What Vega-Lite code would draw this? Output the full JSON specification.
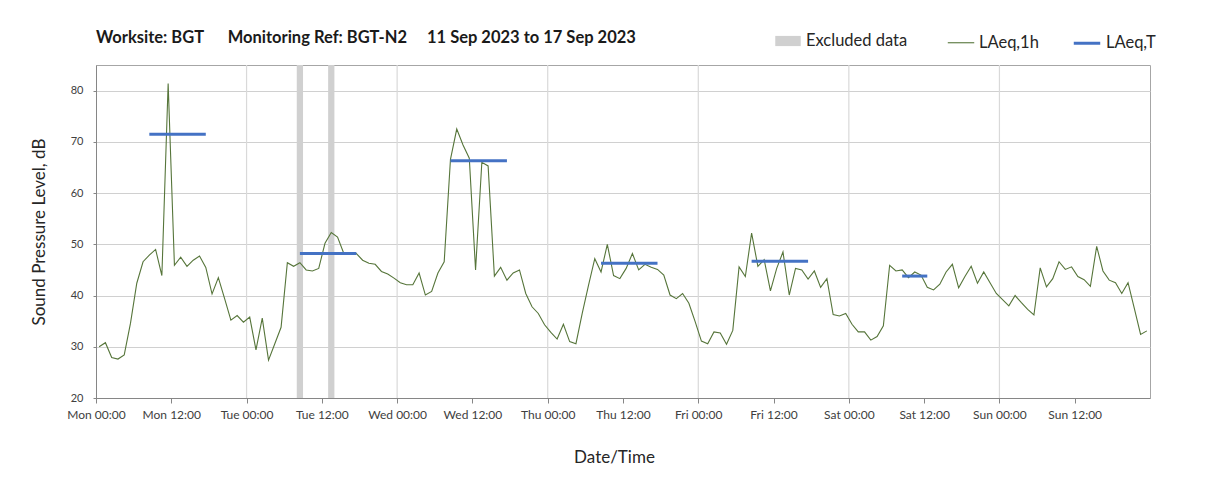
{
  "$schema": "https://vega.github.io/schema/vega-lite/v6.json",
  "autosize": {"type": "none"},
  "width": 1054,
  "height": 333,
  "padding": {"left": 96, "top": 65, "right": 58, "bottom": 94},
  "background": "white",
  "config": {"font": "Lato", "view": {"stroke": "#a6a6a6", "strokeWidth": 1}, "axisY": {"tickCount": 13}},
  "title": {"text": "Worksite: BGT\u00a0\u00a0\u00a0\u00a0\u00a0\u00a0Monitoring Ref: BGT-N2\u00a0\u00a0\u00a0\u00a0 11 Sep 2023 to 17 Sep 2023", "anchor": "start", "frame": "group", "offset": -18, "fontSize": 16.5, "fontWeight": "bold", "color": "#1a1a1a"},
  "datasets": {
    "hourly": [
      {"t":"2023-09-11T00:30","v":30.0},{"t":"2023-09-11T01:30","v":30.8},{"t":"2023-09-11T02:30","v":27.9},{"t":"2023-09-11T03:30","v":27.6},
      {"t":"2023-09-11T04:30","v":28.4},{"t":"2023-09-11T05:30","v":34.6},{"t":"2023-09-11T06:30","v":42.4},{"t":"2023-09-11T07:30","v":46.6},
      {"t":"2023-09-11T08:30","v":47.9},{"t":"2023-09-11T09:30","v":49.0},{"t":"2023-09-11T10:30","v":43.9},{"t":"2023-09-11T11:30","v":81.4},
      {"t":"2023-09-11T12:30","v":45.9},{"t":"2023-09-11T13:30","v":47.5},{"t":"2023-09-11T14:30","v":45.7},{"t":"2023-09-11T15:30","v":46.9},
      {"t":"2023-09-11T16:30","v":47.7},{"t":"2023-09-11T17:30","v":45.5},{"t":"2023-09-11T18:30","v":40.3},{"t":"2023-09-11T19:30","v":43.5},
      {"t":"2023-09-11T20:30","v":39.4},{"t":"2023-09-11T21:30","v":35.2},{"t":"2023-09-11T22:30","v":36.1},{"t":"2023-09-11T23:30","v":34.8},
      {"t":"2023-09-12T00:30","v":35.8},{"t":"2023-09-12T01:30","v":29.4},{"t":"2023-09-12T02:30","v":35.6},{"t":"2023-09-12T03:30","v":27.4},
      {"t":"2023-09-12T04:30","v":30.6},{"t":"2023-09-12T05:30","v":33.8},{"t":"2023-09-12T06:30","v":46.4},{"t":"2023-09-12T07:30","v":45.7},
      {"t":"2023-09-12T08:30","v":46.4},{"t":"2023-09-12T09:30","v":45.0},{"t":"2023-09-12T10:30","v":44.8},{"t":"2023-09-12T11:30","v":45.3},
      {"t":"2023-09-12T12:30","v":50.2},{"t":"2023-09-12T13:30","v":52.3},{"t":"2023-09-12T14:30","v":51.4},{"t":"2023-09-12T15:30","v":48.2},
      {"t":"2023-09-12T16:30","v":48.1},{"t":"2023-09-12T17:30","v":48.2},{"t":"2023-09-12T18:30","v":46.9},{"t":"2023-09-12T19:30","v":46.3},
      {"t":"2023-09-12T20:30","v":46.1},{"t":"2023-09-12T21:30","v":44.7},{"t":"2023-09-12T22:30","v":44.2},{"t":"2023-09-12T23:30","v":43.4},
      {"t":"2023-09-13T00:30","v":42.5},{"t":"2023-09-13T01:30","v":42.1},{"t":"2023-09-13T02:30","v":42.1},{"t":"2023-09-13T03:30","v":44.4},
      {"t":"2023-09-13T04:30","v":40.1},{"t":"2023-09-13T05:30","v":40.8},{"t":"2023-09-13T06:30","v":44.4},{"t":"2023-09-13T07:30","v":46.6},
      {"t":"2023-09-13T08:30","v":66.6},{"t":"2023-09-13T09:30","v":72.5},{"t":"2023-09-13T10:30","v":69.4},{"t":"2023-09-13T11:30","v":66.8},
      {"t":"2023-09-13T12:30","v":45.0},{"t":"2023-09-13T13:30","v":66.0},{"t":"2023-09-13T14:30","v":65.3},{"t":"2023-09-13T15:30","v":43.8},
      {"t":"2023-09-13T16:30","v":45.5},{"t":"2023-09-13T17:30","v":43.0},{"t":"2023-09-13T18:30","v":44.4},{"t":"2023-09-13T19:30","v":45.0},
      {"t":"2023-09-13T20:30","v":40.4},{"t":"2023-09-13T21:30","v":37.8},{"t":"2023-09-13T22:30","v":36.5},{"t":"2023-09-13T23:30","v":34.3},
      {"t":"2023-09-14T00:30","v":32.8},{"t":"2023-09-14T01:30","v":31.5},{"t":"2023-09-14T02:30","v":34.4},{"t":"2023-09-14T03:30","v":31.0},
      {"t":"2023-09-14T04:30","v":30.6},{"t":"2023-09-14T05:30","v":36.5},{"t":"2023-09-14T06:30","v":42.0},{"t":"2023-09-14T07:30","v":47.2},
      {"t":"2023-09-14T08:30","v":44.6},{"t":"2023-09-14T09:30","v":50.0},{"t":"2023-09-14T10:30","v":43.9},{"t":"2023-09-14T11:30","v":43.3},
      {"t":"2023-09-14T12:30","v":45.3},{"t":"2023-09-14T13:30","v":48.2},{"t":"2023-09-14T14:30","v":45.0},{"t":"2023-09-14T15:30","v":46.1},
      {"t":"2023-09-14T16:30","v":45.5},{"t":"2023-09-14T17:30","v":45.1},{"t":"2023-09-14T18:30","v":44.0},{"t":"2023-09-14T19:30","v":40.1},
      {"t":"2023-09-14T20:30","v":39.4},{"t":"2023-09-14T21:30","v":40.4},{"t":"2023-09-14T22:30","v":38.5},{"t":"2023-09-14T23:30","v":34.9},
      {"t":"2023-09-15T00:30","v":31.1},{"t":"2023-09-15T01:30","v":30.6},{"t":"2023-09-15T02:30","v":32.9},{"t":"2023-09-15T03:30","v":32.7},
      {"t":"2023-09-15T04:30","v":30.5},{"t":"2023-09-15T05:30","v":33.2},{"t":"2023-09-15T06:30","v":45.6},{"t":"2023-09-15T07:30","v":43.7},
      {"t":"2023-09-15T08:30","v":52.2},{"t":"2023-09-15T09:30","v":45.7},{"t":"2023-09-15T10:30","v":47.0},{"t":"2023-09-15T11:30","v":40.9},
      {"t":"2023-09-15T12:30","v":45.3},{"t":"2023-09-15T13:30","v":48.5},{"t":"2023-09-15T14:30","v":40.1},{"t":"2023-09-15T15:30","v":45.3},
      {"t":"2023-09-15T16:30","v":45.0},{"t":"2023-09-15T17:30","v":43.2},{"t":"2023-09-15T18:30","v":44.8},{"t":"2023-09-15T19:30","v":41.6},
      {"t":"2023-09-15T20:30","v":43.3},{"t":"2023-09-15T21:30","v":36.3},{"t":"2023-09-15T22:30","v":36.0},{"t":"2023-09-15T23:30","v":36.5},
      {"t":"2023-09-16T00:30","v":34.4},{"t":"2023-09-16T01:30","v":32.9},{"t":"2023-09-16T02:30","v":32.9},{"t":"2023-09-16T03:30","v":31.3},
      {"t":"2023-09-16T04:30","v":32.0},{"t":"2023-09-16T05:30","v":34.1},{"t":"2023-09-16T06:30","v":45.9},{"t":"2023-09-16T07:30","v":44.8},
      {"t":"2023-09-16T08:30","v":45.0},{"t":"2023-09-16T09:30","v":43.5},{"t":"2023-09-16T10:30","v":44.6},{"t":"2023-09-16T11:30","v":44.0},
      {"t":"2023-09-16T12:30","v":41.6},{"t":"2023-09-16T13:30","v":41.1},{"t":"2023-09-16T14:30","v":42.2},{"t":"2023-09-16T15:30","v":44.6},
      {"t":"2023-09-16T16:30","v":46.1},{"t":"2023-09-16T17:30","v":41.5},{"t":"2023-09-16T18:30","v":43.7},{"t":"2023-09-16T19:30","v":45.7},
      {"t":"2023-09-16T20:30","v":42.4},{"t":"2023-09-16T21:30","v":44.6},{"t":"2023-09-16T22:30","v":42.5},{"t":"2023-09-16T23:30","v":40.4},
      {"t":"2023-09-17T00:30","v":39.2},{"t":"2023-09-17T01:30","v":38.0},{"t":"2023-09-17T02:30","v":40.0},{"t":"2023-09-17T03:30","v":38.6},
      {"t":"2023-09-17T04:30","v":37.3},{"t":"2023-09-17T05:30","v":36.2},{"t":"2023-09-17T06:30","v":45.4},{"t":"2023-09-17T07:30","v":41.7},
      {"t":"2023-09-17T08:30","v":43.3},{"t":"2023-09-17T09:30","v":46.6},{"t":"2023-09-17T10:30","v":45.1},{"t":"2023-09-17T11:30","v":45.6},
      {"t":"2023-09-17T12:30","v":43.7},{"t":"2023-09-17T13:30","v":43.1},{"t":"2023-09-17T14:30","v":41.8},{"t":"2023-09-17T15:30","v":49.6},
      {"t":"2023-09-17T16:30","v":44.8},{"t":"2023-09-17T17:30","v":43.0},{"t":"2023-09-17T18:30","v":42.5},{"t":"2023-09-17T19:30","v":40.4},
      {"t":"2023-09-17T20:30","v":42.5},{"t":"2023-09-17T21:30","v":37.5},{"t":"2023-09-17T22:30","v":32.4},{"t":"2023-09-17T23:30","v":33.1}
    ],
    "periods": [
      {"start":"2023-09-11T08:30","end":"2023-09-11T17:30","v":71.5},
      {"start":"2023-09-12T08:30","end":"2023-09-12T17:30","v":48.2},
      {"start":"2023-09-13T08:30","end":"2023-09-13T17:30","v":66.3},
      {"start":"2023-09-14T08:30","end":"2023-09-14T17:30","v":46.3},
      {"start":"2023-09-15T08:30","end":"2023-09-15T17:30","v":46.7},
      {"start":"2023-09-16T08:30","end":"2023-09-16T12:30","v":43.8}
    ],
    "excluded": [
      {"start":"2023-09-12T08:00","end":"2023-09-12T09:00"},
      {"start":"2023-09-12T13:00","end":"2023-09-12T14:00"}
    ],
    "days": [
      {"d":"2023-09-12T00:00"},{"d":"2023-09-13T00:00"},{"d":"2023-09-14T00:00"},
      {"d":"2023-09-15T00:00"},{"d":"2023-09-16T00:00"},{"d":"2023-09-17T00:00"}
    ]
  },
  "layer": [
    {
      "data": {"name": "days"},
      "mark": {"type": "rule", "color": "#d9d9d9", "strokeWidth": 1.2},
      "encoding": {"x": {"field": "d", "type": "temporal"}}
    },
    {
      "data": {"name": "excluded"},
      "transform": [{"calculate": "'Excluded data'", "as": "series"}],
      "mark": {"type": "rect"},
      "encoding": {
        "x": {"field": "start", "type": "temporal"},
        "x2": {"field": "end"},
        "fill": {
          "field": "series", "type": "nominal",
          "scale": {"domain": ["Excluded data"], "range": ["#d0d0d0"]},
          "legend": {"title": null, "orient": "none", "direction": "horizontal", "legendX": 679, "legendY": -37, "labelFontSize": 16.5, "labelColor": "#262626", "labelOffset": 5, "symbolType": "M-1,-0.4H1V0.4H-1Z", "symbolSize": 650, "symbolStrokeWidth": 0}
        }
      }
    },
    {
      "data": {"name": "hourly"},
      "transform": [{"calculate": "'LAeq,1h'", "as": "series"}],
      "mark": {"type": "line"},
      "encoding": {
        "x": {
          "field": "t", "type": "temporal",
          "scale": {"domain": [{"year": 2023, "month": 9, "date": 11, "hours": 0}, {"year": 2023, "month": 9, "date": 18, "hours": 0}], "nice": false},
          "axis": {
            "title": "Date/Time",
            "values": [
              {"year": 2023, "month": 9, "date": 11, "hours": 0}, {"year": 2023, "month": 9, "date": 11, "hours": 12},
              {"year": 2023, "month": 9, "date": 12, "hours": 0}, {"year": 2023, "month": 9, "date": 12, "hours": 12},
              {"year": 2023, "month": 9, "date": 13, "hours": 0}, {"year": 2023, "month": 9, "date": 13, "hours": 12},
              {"year": 2023, "month": 9, "date": 14, "hours": 0}, {"year": 2023, "month": 9, "date": 14, "hours": 12},
              {"year": 2023, "month": 9, "date": 15, "hours": 0}, {"year": 2023, "month": 9, "date": 15, "hours": 12},
              {"year": 2023, "month": 9, "date": 16, "hours": 0}, {"year": 2023, "month": 9, "date": 16, "hours": 12},
              {"year": 2023, "month": 9, "date": 17, "hours": 0}, {"year": 2023, "month": 9, "date": 17, "hours": 12}
            ],
            "format": "%a %H:%M",
            "grid": false,
            "labelFlush": false,
            "labelOverlap": false,
            "labelFontSize": 12,
            "labelColor": "#404040",
            "labelPadding": 6,
            "tickSize": 5,
            "tickColor": "#868686",
            "domainColor": "#868686",
            "titleFontSize": 17,
            "titleFontWeight": "normal",
            "titleColor": "#262626",
            "titlePadding": 29,
            "titleX": 518,
            "titleAlign": "center"
          }
        },
        "y": {
          "field": "v", "type": "quantitative",
          "scale": {"domain": [20, 85], "nice": false, "zero": false},
          "axis": {
            "title": "Sound Pressure Level, dB",
            "values": [20,25,30,35,40,45,50,55,60,65,70,75,80,85],
            "tickCount": 13,
            "labelOverlap": false,
            "labelFlush": false,
            "labelBound": false,
            "labelFontSize": 11,
            "labelColor": "#404040",
            "labelPadding": 10,
            "tickSize": 3,
            "tickColor": "#868686",
            "domainColor": "#868686",
            "gridColor": "#d0d0d0",
            "gridWidth": 1.2,
            "titleFontSize": 17,
            "titleFontWeight": "normal",
            "titleColor": "#262626",
            "titlePadding": 22
          }
        },
        "stroke": {
          "field": "series", "type": "nominal",
          "scale": {"domain": ["LAeq,1h", "LAeq,T"], "range": ["#56753a", "#4472c4"]},
          "legend": {"title": null, "orient": "none", "direction": "horizontal", "legendX": 851, "legendY": -37, "labelFontSize": 16.5, "labelColor": "#262626", "labelOffset": 4, "columnPadding": 28, "symbolType": "stroke", "symbolSize": 700}
        },
        "strokeWidth": {
          "field": "series", "type": "nominal",
          "scale": {"domain": ["LAeq,1h", "LAeq,T"], "range": [1.1, 3]},
          "legend": {"title": null, "orient": "none", "direction": "horizontal", "legendX": 851, "legendY": -37, "labelFontSize": 16.5, "labelColor": "#262626", "labelOffset": 4, "columnPadding": 28, "symbolType": "stroke", "symbolSize": 700}
        }
      }
    },
    {
      "data": {"name": "periods"},
      "transform": [{"calculate": "'LAeq,T'", "as": "series"}],
      "mark": {"type": "rule"},
      "encoding": {
        "x": {"field": "start", "type": "temporal"},
        "x2": {"field": "end"},
        "y": {
          "field": "v", "type": "quantitative",
          "axis": {
            "title": "Sound Pressure Level, dB",
            "values": [20,25,30,35,40,45,50,55,60,65,70,75,80,85],
            "tickCount": 13,
            "labelOverlap": false,
            "labelFlush": false,
            "labelBound": false,
            "labelFontSize": 11,
            "labelColor": "#404040",
            "labelPadding": 10,
            "tickSize": 3,
            "tickColor": "#868686",
            "domainColor": "#868686",
            "gridColor": "#d0d0d0",
            "gridWidth": 1.2,
            "titleFontSize": 17,
            "titleFontWeight": "normal",
            "titleColor": "#262626",
            "titlePadding": 22
          }
        },
        "stroke": {"field": "series", "type": "nominal"},
        "strokeWidth": {"field": "series", "type": "nominal"}
      }
    }
  ]
}
